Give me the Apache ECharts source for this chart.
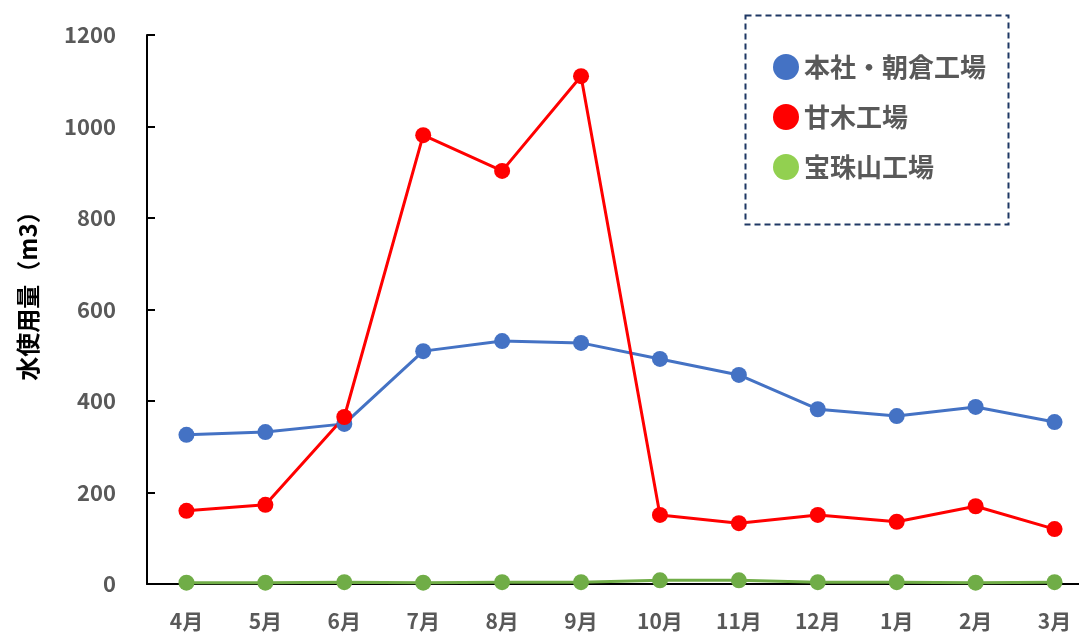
<!DOCTYPE html>
<html>
<head>
<meta charset="utf-8">
<script src="https://cdn.jsdelivr.net/npm/echarts@6/dist/echarts.min.js"></script>
<style>
  html, body { margin: 0; padding: 0; background: #fff; }
  #chart { width: 1079px; height: 635px; }
</style>
</head>
<body>
<div id="chart"></div>
<script>
const months = ['4月', '5月', '6月', '7月', '8月', '9月', '10月', '11月', '12月', '1月', '2月', '3月'];
const honsha = [326, 332, 350, 509, 531, 527, 492, 457, 382, 367, 387, 354];
const amagi = [160, 173, 365, 981, 903, 1110, 151, 133, 151, 136, 170, 120];
const hoshuyama = [3, 3, 4, 3, 4, 4, 8, 8, 4, 4, 3, 4];

const FONT = '"Noto Sans CJK JP", "Noto Sans", sans-serif';
const GRAY = '#595959';

const chart = echarts.init(document.getElementById('chart'));

function line(name, data, color) {
  return {
    name,
    type: 'line',
    data,
    symbol: 'circle',
    symbolSize: 16,
    lineStyle: { color, width: 3 },
    itemStyle: { color },
    emphasis: { disabled: true },
  };
}

chart.setOption({
  animation: false,
  backgroundColor: '#fff',
  // the plot runs past the right edge, as in the source picture
  grid: { left: 147, width: 947, top: 35, bottom: 51, outerBoundsMode: 'none' },
  legend: {
    orient: 'vertical',
    left: 773,
    top: 54,
    padding: 0,
    itemWidth: 26,
    itemHeight: 26,
    itemGap: 24,
    icon: 'circle',
    textStyle: { fontFamily: FONT, fontSize: 26, color: GRAY, fontWeight: 'bold' },
    data: [
      { name: '本社・朝倉工場', itemStyle: { color: '#4472C4' } },
      { name: '甘木工場', itemStyle: { color: '#FF0000' } },
      { name: '宝珠山工場', itemStyle: { color: '#92D050' } },
    ],
  },
  graphic: [{
    type: 'rect',
    left: 743,
    top: 13,
    shape: { width: 263, height: 209 },
    style: { fill: 'none', stroke: '#1F3864', lineWidth: 2, lineDash: [6, 4] },
  }, {
    type: 'text',
    x: 28,
    y: 290,
    rotation: Math.PI / 2,
    style: {
      text: '水使用量（m3）',
      fontFamily: FONT, fontSize: 24, fontWeight: 'bold', fill: '#000',
      align: 'center', verticalAlign: 'middle',
    },
  }],
  xAxis: {
    type: 'category',
    data: months,
    axisLine: { lineStyle: { color: '#000', width: 2 } },
    axisTick: { show: false },
    axisLabel: { fontFamily: FONT, fontSize: 21, fontWeight: 'bold', color: GRAY, margin: 27, interval: 0 },
  },
  yAxis: {
    type: 'value',
    min: 0,
    max: 1200,
    interval: 200,
    axisLine: { show: true, lineStyle: { color: '#000', width: 2 } },
    axisTick: { show: true, inside: true, length: 8, lineStyle: { color: '#000', width: 2 } },
    splitLine: { show: false },
    axisLabel: { fontFamily: FONT, fontSize: 22, fontWeight: 'bold', color: GRAY, margin: 31, formatter: v => String(v) },
  },
  series: [
    line('本社・朝倉工場', honsha, '#4472C4'),
    line('甘木工場', amagi, '#FF0000'),
    line('宝珠山工場', hoshuyama, '#70AD47'),
  ],
});
</script>
</body>
</html>
